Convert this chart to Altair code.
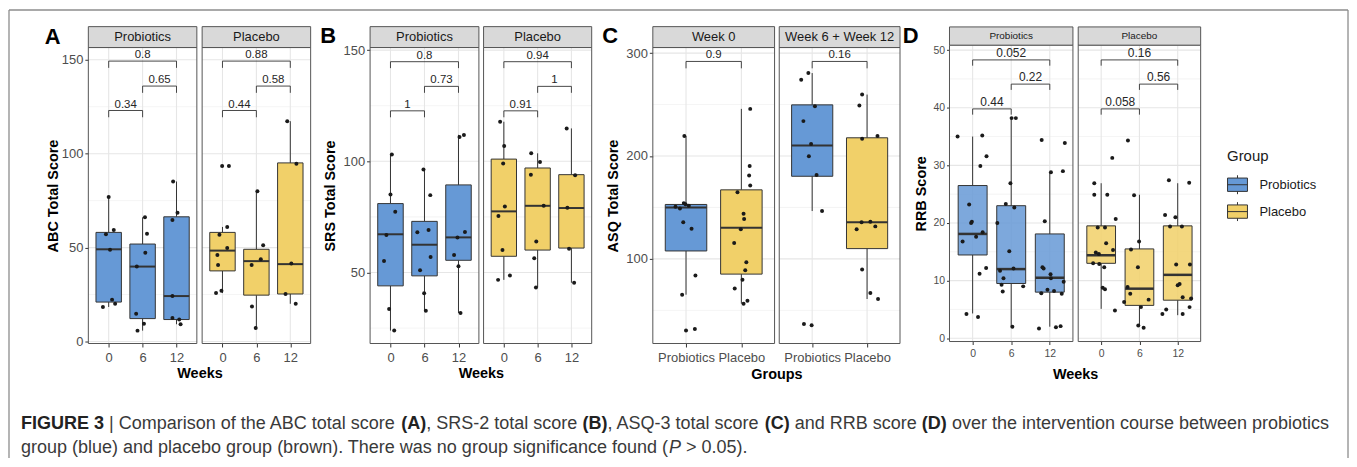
import altair as alt
import pandas as pd

# ---------------- data ----------------
WEEKS = ["0", "6", "12"]
GROUPS = ["Probiotics", "Placebo"]
ASQ_FACETS = ["Week 0", "Week 6 + Week 12"]
WEEK_PAIRS = [(0, 2), (1, 2), (0, 1)]
GROUP_PAIRS = [(0, 1)]

# box statistics per category: (lower whisker, Q1, median, Q3, upper whisker)
ABC_PRO_BOX = [(18.4, 21.0, 49.1, 58.1, 77.0), (5.8, 12.2, 39.9, 51.9, 66.1), (9.2, 11.7, 24.2, 66.4, 85.2)]
ABC_PLA_BOX = [(25.8, 37.6, 48.4, 58.1, 61.0), (7.2, 24.7, 42.8, 49.1, 80.0), (20.1, 25.3, 41.2, 95.1, 117.3)]
SRS_PRO_BOX = [(23.9, 44.0, 67.2, 81.0, 103.1), (32.8, 48.5, 62.5, 73.0, 96.3), (31.8, 55.5, 65.8, 89.4, 111.9)]
SRS_PLA_BOX = [(46.7, 57.3, 77.5, 101.0, 117.8), (43.3, 60.1, 80.0, 97.0, 103.6), (45.4, 61.0, 79.0, 94.0, 114.8)]
ASQ_W0_BOX = [(65.2, 107.7, 150.0, 152.9, 219.4), (56.5, 85.2, 130.3, 167.1, 245.8)]
ASQ_W612_BOX = [(146.5, 180.3, 210.3, 249.7, 280.6), (61.0, 110.0, 135.5, 217.7, 259.7)]
RRB_PRO_BOX = [(4.3, 14.45, 18.1, 26.5, 35.0), (2.0, 9.5, 12.0, 23.0, 38.2), (2.0, 8.0, 10.5, 18.1, 28.8)]
RRB_PLA_BOX = [(5.1, 13.0, 14.4, 19.5, 26.9), (2.1, 5.7, 8.6, 15.5, 24.9), (4.0, 6.6, 11.0, 19.5, 26.9)]

# individual scores: (category index, value, horizontal jitter in category units)
ABC_PRO_PTS = [
    (0, 77.0, 0.00), (0, 57.1, -0.08), (0, 59.4, 0.15), (0, 48.8, 0.04), (0, 22.3, 0.10), (0, 20.1, 0.19), (0, 18.4, -0.17),
    (1, 66.1, 0.07), (1, 57.4, 0.13), (1, 47.3, 0.08), (1, 39.9, -0.17), (1, 14.8, -0.19), (1, 9.5, 0.04), (1, 5.8, -0.15),
    (2, 85.2, -0.10), (2, 68.5, 0.03), (2, 64.7, -0.12), (2, 24.2, -0.12), (2, 12.5, -0.12), (2, 11.7, 0.08), (2, 9.2, 0.12)]
ABC_PLA_PTS = [
    (0, 93.5, -0.01), (0, 93.5, 0.19), (0, 61.0, 0.14), (0, 56.9, -0.09), (0, 49.8, 0.14), (0, 46.1, -0.15),
    (0, 40.8, -0.13), (0, 27.0, -0.03), (0, 25.8, -0.19),
    (1, 80.0, 0.03), (1, 51.2, 0.20), (1, 43.8, 0.13), (1, 40.8, -0.14), (1, 18.7, -0.13), (1, 7.2, -0.02),
    (2, 117.3, -0.09), (2, 94.7, 0.18), (2, 41.5, 0.03), (2, 25.3, -0.14), (2, 20.1, 0.16)]
SRS_PRO_PTS = [
    (0, 103.1, 0.04), (0, 85.1, 0.00), (0, 77.3, 0.14), (0, 66.9, -0.12), (0, 55.2, -0.19), (0, 33.6, -0.04), (0, 23.9, 0.11),
    (1, 96.3, -0.03), (1, 84.8, 0.17), (1, 68.1, -0.21), (1, 69.1, 0.12), (1, 57.0, 0.18), (1, 51.0, -0.13),
    (1, 40.7, -0.01), (1, 32.8, 0.04),
    (2, 111.8, 0.16), (2, 110.9, 0.03), (2, 68.2, 0.19), (2, 65.8, -0.03), (2, 57.9, -0.13), (2, 52.8, 0.00), (2, 31.8, 0.06)]
SRS_PLA_PTS = [
    (0, 117.8, -0.11), (0, 106.9, 0.01), (0, 99.0, -0.02), (0, 79.7, 0.03), (0, 75.4, -0.16), (0, 60.1, -0.04),
    (0, 48.7, 0.18), (0, 46.7, -0.17),
    (1, 103.6, -0.19), (1, 99.7, 0.07), (1, 94.0, -0.20), (1, 80.0, 0.18), (1, 63.9, -0.04), (1, 56.4, -0.10), (1, 43.3, -0.05),
    (2, 114.8, -0.14), (2, 93.7, 0.11), (2, 79.1, -0.12), (2, 60.7, -0.07), (2, 45.4, 0.08)]
ASQ_W0_PTS = [
    (0, 219.4, -0.03), (0, 154.2, -0.04), (0, 153.2, -0.01), (0, 151.6, 0.05), (0, 149.0, -0.11), (0, 150.6, -0.19),
    (0, 135.5, -0.05), (0, 129.4, 0.10), (0, 83.9, 0.17), (0, 65.2, -0.07), (0, 30.3, 0.00), (0, 31.9, 0.16),
    (1, 245.8, 0.16), (1, 190.3, 0.15), (1, 181.0, 0.14), (1, 171.3, 0.16), (1, 164.8, -0.07), (1, 143.9, 0.04),
    (1, 138.7, 0.05), (1, 128.7, -0.01), (1, 115.5, -0.13), (1, 96.8, 0.09), (1, 89.0, 0.07), (1, 79.7, 0.02),
    (1, 71.3, -0.12), (1, 59.4, 0.11), (1, 56.5, 0.04)]
ASQ_W612_PTS = [
    (0, 280.6, -0.07), (0, 274.2, -0.20), (0, 248.4, 0.05), (0, 233.9, -0.16), (0, 211.6, -0.02), (0, 199.7, -0.06),
    (0, 181.6, 0.08), (0, 146.5, 0.18), (0, 36.8, -0.15), (0, 35.5, -0.01),
    (1, 259.7, -0.09), (1, 249.0, -0.14), (1, 219.4, 0.19), (1, 216.8, -0.09), (1, 136.1, 0.06), (1, 135.5, -0.10),
    (1, 131.6, 0.15), (1, 128.7, -0.19), (1, 89.7, -0.09), (1, 66.8, 0.06), (1, 61.0, 0.20)]
RRB_PRO_PTS = [
    (0, 35.0, -0.39), (0, 35.2, 0.25), (0, 31.6, 0.36), (0, 29.9, 0.20), (0, 23.2, -0.09), (0, 20.2, -0.02),
    (0, 20.0, -0.04), (0, 18.4, 0.26), (0, 17.6, 0.09), (0, 16.8, -0.26), (0, 12.2, 0.35), (0, 11.2, 0.18),
    (0, 4.2, -0.16), (0, 3.7, 0.14),
    (1, 38.2, 0.01), (1, 38.2, 0.12), (1, 26.9, -0.02), (1, 23.3, -0.14), (1, 22.7, 0.08), (1, 20.0, -0.36),
    (1, 15.1, -0.05), (1, 11.7, -0.29), (1, 12.1, 0.06), (1, 10.4, -0.20), (1, 9.3, -0.25), (1, 8.1, -0.22),
    (1, 9.0, 0.31), (1, 2.0, 0.03),
    (2, 34.4, -0.21), (2, 33.9, 0.39), (2, 29.0, 0.34), (2, 28.8, 0.03), (2, 20.3, -0.13), (2, 12.3, -0.19),
    (2, 12.1, -0.16), (2, 11.1, 0.02), (2, 10.4, 0.03), (2, 8.4, -0.06), (2, 8.2, 0.11), (2, 7.8, -0.22),
    (2, 7.7, 0.31), (2, 9.8, 0.36), (2, 1.7, -0.28), (2, 1.9, 0.16), (2, 2.1, 0.28)]
RRB_PLA_PTS = [
    (0, 26.9, -0.18), (0, 31.3, 0.29), (0, 24.9, -0.18), (0, 24.9, 0.16), (0, 20.7, 0.38), (0, 19.2, -0.09),
    (0, 19.2, 0.10), (0, 16.5, 0.13), (0, 15.3, 0.31), (0, 14.9, -0.14), (0, 14.6, -0.06), (0, 13.0, -0.21),
    (0, 12.9, -0.05), (0, 12.3, 0.08), (0, 8.75, 0.04), (0, 8.5, 0.10), (0, 4.8, 0.36),
    (1, 34.3, -0.30), (1, 24.8, -0.14), (1, 16.8, -0.01), (1, 15.4, -0.22), (1, 12.3, -0.04), (1, 8.9, -0.31),
    (1, 7.7, -0.24), (1, 6.7, 0.24), (1, 6.3, -0.40), (1, 5.4, 0.04), (1, 2.2, -0.03), (1, 1.8, 0.11),
    (2, 27.4, -0.23), (2, 27.0, 0.30), (2, 21.4, -0.33), (2, 21.0, -0.06), (2, 19.4, -0.20), (2, 19.4, 0.11),
    (2, 12.8, -0.04), (2, 12.8, 0.32), (2, 9.2, 0.00), (2, 9.4, 0.05), (2, 7.1, 0.13), (2, 6.9, 0.35),
    (2, 5.0, -0.30), (2, 5.4, 0.31), (2, 4.2, -0.40), (2, 4.2, 0.13)]

# p-values of the comparisons and the heights of their brackets (data units)
ABC_PRO_P = ["0.8", "0.65", "0.34"]
ABC_PLA_P = ["0.88", "0.58", "0.44"]
SRS_PRO_P = ["0.8", "0.73", "1"]
SRS_PLA_P = ["0.94", "1", "0.91"]
ASQ_W0_P = ["0.9"]
ASQ_W612_P = ["0.16"]
RRB_PRO_P = ["0.052", "0.22", "0.44"]
RRB_PLA_P = ["0.16", "0.56", "0.058"]
ABC_BRACKET_Y = [149.3, 136.0, 123.0]
SRS_BRACKET_Y = [144.8, 133.7, 122.7]
ASQ_BRACKET_Y = [291.9]
RRB_BRACKET_Y = [48.3, 44.1, 39.8]

# axis tick values (major) and minor grid values
ABC_MAJOR, ABC_MINOR = [0, 50, 100, 150], [25, 75, 125]
SRS_MAJOR, SRS_MINOR = [50, 100, 150], [25, 75, 125]
ASQ_MAJOR, ASQ_MINOR = [100, 200, 300], [50, 150, 250]
RRB_MAJOR, RRB_MINOR = [0, 10, 20, 30, 40, 50], [5, 15, 25, 35, 45]

# ---------------- layout / style ----------------
M = 8                     # page margin: chart origin
W, H = 1347, 451
BLUE, YELLOW = "#6699d6", "#f1d069"
BORDER = "#555555"
COLOR_SCALE = alt.Scale(domain=GROUPS, range=[BLUE, YELLOW])
BOX_GLYPH = "M-1,-0.67H1V0.67H-1Z M-1,0H1 M0,-0.67V-0.95 M0,0.67V0.95"
LEGEND = alt.Legend(title="Group", orient="none", legendX=1224.5, legendY=141, padding=0,
                    symbolType=BOX_GLYPH, symbolSize=400, symbolStrokeColor="#333333",
                    symbolStrokeWidth=1, labelFontSize=13, labelColor="#1a1a1a", labelOffset=11.5,
                    titleFontSize=15, titleFontWeight="normal", titleColor="#1a1a1a",
                    titlePadding=10, rowPadding=4)

GA = dict(cal=(0, 342.0, 150, 59.0), top=46.7, bottom=344.0, strip=25.7, tick=3.5, lab=13, xpad=5,
          strip_fs=13, p_fs=11.5, tip=3.6, med=2.0, fop=1.0, yt_x=53.3, xt_x=200.35, xt_y=374.0,
          xpx=[(88.7, 197.7), (203.0, 312.0)])
GB = dict(cal=(50, 272.7, 150, 49.3), top=46.7, bottom=344.0, strip=25.7, tick=3.5, lab=13, xpad=5,
          strip_fs=13, p_fs=11.5, tip=2.9, med=2.0, fop=1.0, yt_x=331.7, xt_x=483.0, xt_y=374.5,
          xpx=[(371.7, 481.0), (485.7, 594.3)])
GC = dict(cal=(100, 259.0, 300, 52.3), top=46.7, bottom=344.0, strip=25.7, tick=3.5, lab=13, xpad=5,
          strip_fs=13, p_fs=11.5, tip=6.7, med=2.0, fop=1.0, yt_x=616.7, xt_x=779.9, xt_y=375.0,
          xpx=[(655.7, 778.0), (782.7, 904.0)])
GD = dict(cal=(0, 338.7, 50, 49.3), top=44.3, bottom=342.0, strip=26.0, tick=3.0, lab=10.5, xpad=4,
          strip_fs=10, p_fs=12, tip=1.0, med=2.5, fop=0.85, yt_x=925.7, xt_x=1079.9, xt_y=375.0,
          xpx=[(953.7, 1077.7), (1083.0, 1206.0)])


def subpanel(g, side, label, cats, box, box_groups, pts, pairs, pvals, bracket_y,
             major, minor, ytitle=None, xtitle=None):
    n = len(cats)
    xmin, xmax = -0.6, n - 0.4
    v0, p0, v1, p1 = g["cal"]
    k = (v1 - v0) / (p1 - p0)

    def val(p):
        return v0 + (p - p0) * k

    ylo, yhi, yst = val(g["bottom"]), val(g["top"]), val(g["strip"])
    xpx = g["xpx"][side]
    xs = alt.Scale(domain=[xmin, xmax], range=[xpx[0] - M, xpx[1] - M], nice=False, zero=False)
    ys = alt.Scale(domain=[ylo, yst], range=[g["bottom"] - M, g["strip"] - M], nice=False, zero=False)
    lab_expr = "[" + ",".join("'%s'" % c for c in cats) + "][datum.value]"
    xa = dict(orient="bottom", offset=(g["bottom"] - M) - H, values=list(range(n)), labelExpr=lab_expr,
              domain=False, grid=False, tickSize=g["tick"], tickColor="#333333", tickWidth=1,
              labelFontSize=g["lab"], labelColor="#4d4d4d", labelPadding=g["xpad"],
              labelOverlap=False, labelFlush=False)
    if xtitle:
        xa.update(title=xtitle, titleX=g["xt_x"] - M, titleY=g["xt_y"] - g["bottom"], titleFontSize=14.5,
                  titleFontWeight="bold", titleColor="#000000", titleAlign="center",
                  titleBaseline="middle", titleAngle=0)
    else:
        xa.update(title="")
    xaxis = alt.Axis(**xa)
    if ytitle:
        yaxis = alt.Axis(orient="left", offset=-(xpx[0] - M), values=major, domain=False, grid=False,
                         tickSize=g["tick"], tickColor="#333333", tickWidth=1, labelFontSize=g["lab"],
                         labelColor="#4d4d4d", labelPadding=2, labelOverlap=False, format="d",
                         title=ytitle, titleX=g["yt_x"] - xpx[0], titleY=(g["top"] + g["bottom"]) / 2 - M,
                         titleAngle=270, titleAlign="center", titleBaseline="middle", titleFontSize=14.5,
                         titleFontWeight="bold", titleColor="#000000")
    else:
        yaxis = None

    def X(f):
        return alt.X(f + ":Q", scale=xs, axis=xaxis)

    def Y(f):
        return alt.Y(f + ":Q", scale=ys, axis=yaxis)

    layers = []
    # grid
    layers.append(alt.Chart(pd.DataFrame({"v": minor, "x0": xmin, "x1": xmax}))
                  .mark_rule(color="#ededed", strokeWidth=0.6)
                  .encode(x=X("x0"), x2="x1", y=Y("v")))
    layers.append(alt.Chart(pd.DataFrame({"v": major, "x0": xmin, "x1": xmax}))
                  .mark_rule(color="#e6e6e6", strokeWidth=1.1)
                  .encode(x=X("x0"), x2="x1", y=Y("v")))
    layers.append(alt.Chart(pd.DataFrame({"idx": list(range(n)), "y0": ylo, "y1": yhi}))
                  .mark_rule(color="#e6e6e6", strokeWidth=1.1)
                  .encode(x=X("idx"), y=Y("y0"), y2="y1"))
    # boxes
    bdf = pd.DataFrame(box, columns=["lo", "q1", "med", "q3", "hi"])
    bdf["idx"] = list(range(n))
    bdf["group"] = box_groups
    bdf["bx0"] = bdf["idx"] - 0.375
    bdf["bx1"] = bdf["idx"] + 0.375
    bbase = alt.Chart(bdf)
    layers.append(bbase.mark_rule(color="#333333", strokeWidth=1).encode(x=X("idx"), y=Y("lo"), y2="q1"))
    layers.append(bbase.mark_rule(color="#333333", strokeWidth=1).encode(x=X("idx"), y=Y("q3"), y2="hi"))
    layers.append(bbase.mark_rect(stroke="#333333", strokeWidth=1, fillOpacity=g["fop"])
                  .encode(x=X("bx0"), x2="bx1", y=Y("q1"), y2="q3",
                          color=alt.Color("group:N", scale=COLOR_SCALE, legend=LEGEND)))
    layers.append(bbase.mark_rule(color="#333333", strokeWidth=g["med"])
                  .encode(x=X("bx0"), x2="bx1", y=Y("med")))
    # jittered points
    pdf = pd.DataFrame(pts, columns=["idx", "v", "jit"])
    layers.append(alt.Chart(pdf).transform_calculate(xv="datum.idx + datum.jit")
                  .mark_circle(size=16, color="#1a1a1a", opacity=1)
                  .encode(x=X("xv"), y=Y("v")))
    # significance brackets
    brdf = pd.DataFrame({"x1": [p[0] for p in pairs], "x2": [p[1] for p in pairs],
                         "y": bracket_y, "p": pvals})
    brdf["yt"] = brdf["y"] - g["tip"]
    brdf["xm"] = (brdf["x1"] + brdf["x2"]) / 2
    brb = alt.Chart(brdf)
    layers.append(brb.mark_rule(color="#333333", strokeWidth=0.9).encode(x=X("x1"), x2="x2", y=Y("y")))
    layers.append(brb.mark_rule(color="#333333", strokeWidth=0.9).encode(x=X("x1"), y=Y("yt"), y2="y"))
    layers.append(brb.mark_rule(color="#333333", strokeWidth=0.9).encode(x=X("x2"), y=Y("yt"), y2="y"))
    layers.append(brb.mark_text(fontSize=g["p_fs"], color="#262626", baseline="alphabetic", dy=-3)
                  .encode(x=X("xm"), y=Y("y"), text="p:N"))
    # panel border and strip
    fdf = pd.DataFrame({"x0": [xmin], "x1": [xmax], "y0": [ylo], "y1": [yhi], "y2": [yst],
                        "xm": [(xmin + xmax) / 2], "ym": [(yhi + yst) / 2], "lab": [label]})
    fb = alt.Chart(fdf)
    layers.append(fb.mark_rect(fillOpacity=0, stroke=BORDER, strokeWidth=1)
                  .encode(x=X("x0"), x2="x1", y=Y("y0"), y2="y1"))
    layers.append(fb.mark_rect(fill="#d9d9d9", stroke=BORDER, strokeWidth=1)
                  .encode(x=X("x0"), x2="x1", y=Y("y1"), y2="y2"))
    layers.append(fb.mark_text(fontSize=g["strip_fs"], color="#1a1a1a", baseline="middle")
                  .encode(x=X("xm"), y=Y("ym"), text="lab:N"))
    return alt.layer(*layers)


def text_mark(txt, x, y, size, weight="normal", style="normal", color="#333333"):
    return (alt.Chart(pd.DataFrame({"t": [txt]}))
            .mark_text(align="left", baseline="alphabetic", fontSize=size, fontWeight=weight,
                       fontStyle=style, color=color)
            .encode(x=alt.value(x - M), y=alt.value(y - M), text="t:N"))


panels = [
    subpanel(GA, 0, GROUPS[0], WEEKS, ABC_PRO_BOX, [GROUPS[0]] * 3, ABC_PRO_PTS, WEEK_PAIRS, ABC_PRO_P,
             ABC_BRACKET_Y, ABC_MAJOR, ABC_MINOR, ytitle="ABC Total Score", xtitle="Weeks"),
    subpanel(GA, 1, GROUPS[1], WEEKS, ABC_PLA_BOX, [GROUPS[1]] * 3, ABC_PLA_PTS, WEEK_PAIRS, ABC_PLA_P,
             ABC_BRACKET_Y, ABC_MAJOR, ABC_MINOR),
    subpanel(GB, 0, GROUPS[0], WEEKS, SRS_PRO_BOX, [GROUPS[0]] * 3, SRS_PRO_PTS, WEEK_PAIRS, SRS_PRO_P,
             SRS_BRACKET_Y, SRS_MAJOR, SRS_MINOR, ytitle="SRS Total Score", xtitle="Weeks"),
    subpanel(GB, 1, GROUPS[1], WEEKS, SRS_PLA_BOX, [GROUPS[1]] * 3, SRS_PLA_PTS, WEEK_PAIRS, SRS_PLA_P,
             SRS_BRACKET_Y, SRS_MAJOR, SRS_MINOR),
    subpanel(GC, 0, ASQ_FACETS[0], GROUPS, ASQ_W0_BOX, GROUPS, ASQ_W0_PTS, GROUP_PAIRS, ASQ_W0_P,
             ASQ_BRACKET_Y, ASQ_MAJOR, ASQ_MINOR, ytitle="ASQ Total Score", xtitle="Groups"),
    subpanel(GC, 1, ASQ_FACETS[1], GROUPS, ASQ_W612_BOX, GROUPS, ASQ_W612_PTS, GROUP_PAIRS, ASQ_W612_P,
             ASQ_BRACKET_Y, ASQ_MAJOR, ASQ_MINOR),
    subpanel(GD, 0, GROUPS[0], WEEKS, RRB_PRO_BOX, [GROUPS[0]] * 3, RRB_PRO_PTS, WEEK_PAIRS, RRB_PRO_P,
             RRB_BRACKET_Y, RRB_MAJOR, RRB_MINOR, ytitle="RRB Score", xtitle="Weeks"),
    subpanel(GD, 1, GROUPS[1], WEEKS, RRB_PLA_BOX, [GROUPS[1]] * 3, RRB_PLA_PTS, WEEK_PAIRS, RRB_PLA_P,
             RRB_BRACKET_Y, RRB_MAJOR, RRB_MINOR),
]

# panel letters
letters = [text_mark("A", 45, 43.3, 22, "bold", color="#000000"),
           text_mark("B", 321.7, 41.7, 22, "bold", color="#000000"),
           text_mark("C", 605, 42, 22, "bold", color="#000000"),
           text_mark("D", 906.7, 42, 22, "bold", color="#000000")]

# caption (Arial-metric widths to chain the mixed-weight pieces)
REG = {' ': 278, '(': 333, ')': 333, ',': 278, '-': 333, '.': 278, '|': 260, '>': 584,
       'A': 667, 'B': 667, 'C': 722, 'D': 722, 'E': 667, 'F': 611, 'G': 778, 'I': 278, 'P': 667, 'Q': 778,
       'R': 722, 'S': 667, 'T': 611, 'U': 722, 'a': 556, 'b': 556, 'c': 500, 'd': 556, 'e': 556, 'f': 278,
       'g': 556, 'h': 556, 'i': 222, 'l': 222, 'm': 833, 'n': 556, 'o': 556, 'p': 556, 'r': 333, 's': 500,
       't': 278, 'u': 556, 'v': 500, 'w': 722}
BOLD = {' ': 278, '(': 333, ')': 333, 'A': 722, 'B': 722, 'C': 722, 'D': 722, 'E': 667, 'F': 611,
        'G': 778, 'I': 278, 'R': 722, 'U': 722}
CAP_FS = 18.1


def tw(s, weight):
    tab = BOLD if weight == "bold" else REG
    return sum(tab.get(c, 556) for c in s) * CAP_FS / 1000


CAP_LINE1 = [("FIGURE 3", "bold"), (" | Comparison of the ABC total score ", "normal"), ("(A)", "bold"),
             (", SRS-2 total score ", "normal"), ("(B)", "bold"), (", ASQ-3 total score ", "normal"),
             ("(C)", "bold"), (" and RRB score ", "normal"), ("(D)", "bold"),
             (" over the intervention course between probiotics", "normal")]
CAP_LINE2 = [("group (blue) and placebo group (brown). There was no group significance found (", "normal"),
             ("P", "italic"), (" > 0.05).", "normal")]

caption = []
for line, base in ((CAP_LINE1, 430.0), (CAP_LINE2, 454.0)):
    x = 21.0
    for seg, kind in line:
        weight = "bold" if kind == "bold" else "normal"
        style = "italic" if kind == "italic" else "normal"
        lead = len(seg) - len(seg.lstrip(" "))
        caption.append(text_mark(seg.strip(), x + tw(" " * lead, weight), base, CAP_FS, weight, style,
                                 "#222222" if weight == "bold" else "#3a3a3a"))
        x += tw(seg, weight)

# outer frame (left, top, right)
one = pd.DataFrame({"t": [""]})
frame = [
    alt.Chart(one).mark_rule(color="#8c8c8c", strokeWidth=1.3)
    .encode(x=alt.value(1), y=alt.value(1), y2=alt.value(H)),
    alt.Chart(one).mark_rule(color="#8c8c8c", strokeWidth=1.3)
    .encode(x=alt.value(1), x2=alt.value(W - 1), y=alt.value(1)),
    alt.Chart(one).mark_rule(color="#8c8c8c", strokeWidth=1.3)
    .encode(x=alt.value(W - 1), y=alt.value(1), y2=alt.value(H)),
]

chart = (alt.layer(*panels, *letters, *caption, *frame)
         .resolve_scale(x="independent", y="independent")
         .resolve_axis(x="independent", y="independent")
         .properties(width=W, height=H, padding=0, background="white")
         .configure(font="Liberation Sans")
         .configure_view(strokeWidth=0))

chart.save("out.html", embed_options={"renderer": "svg", "actions": False})
